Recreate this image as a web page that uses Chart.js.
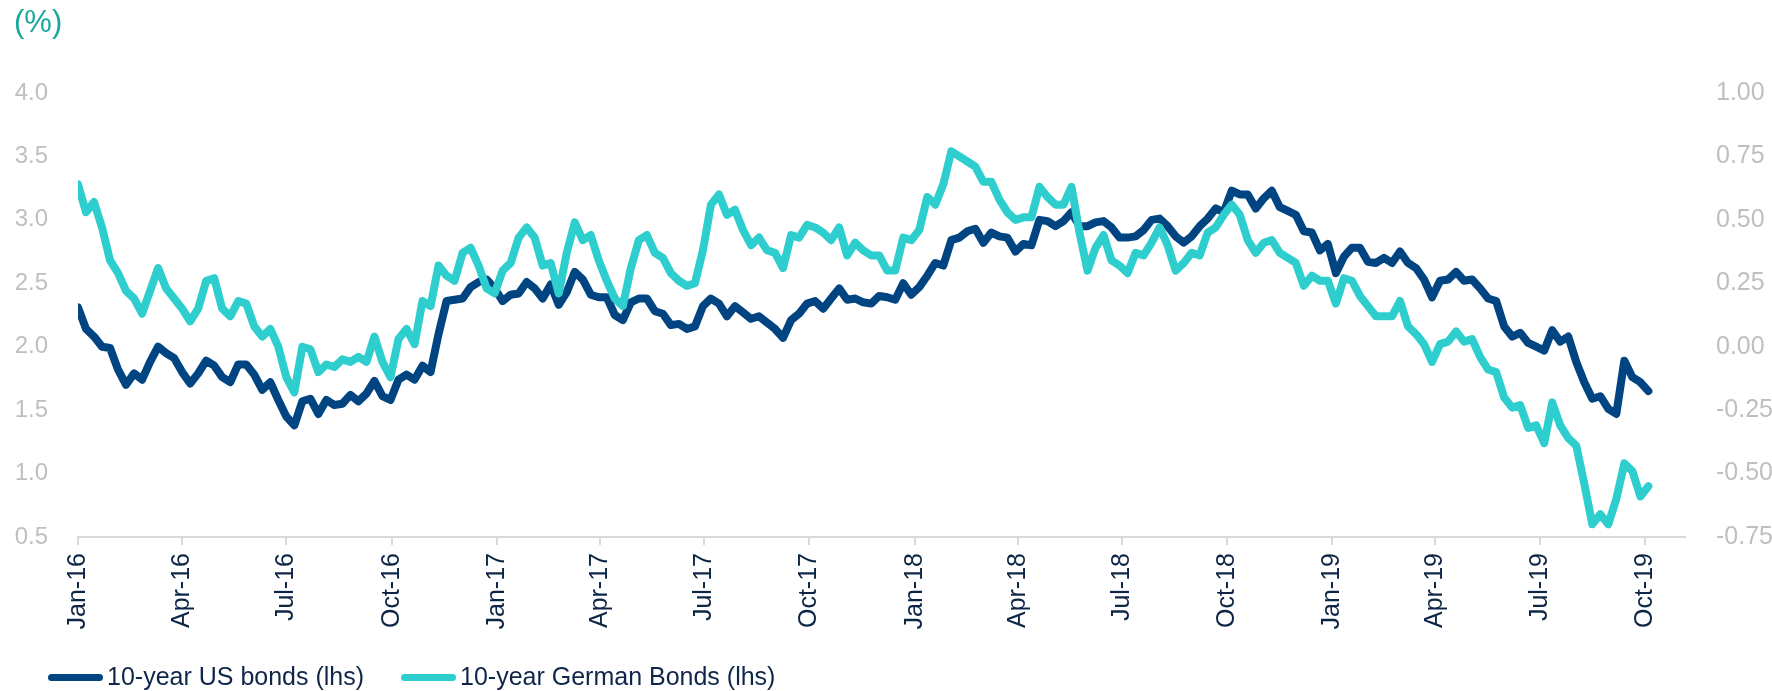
<!DOCTYPE html>
<html>
<head>
<meta charset="utf-8">
<script src="https://cdn.jsdelivr.net/npm/chart.js@4.4.0/dist/chart.umd.min.js"></script>
<style>
    html, body { margin: 0; padding: 0; background: #fff; }
    #wrap { position: relative; width: 1772px; height: 691px; font-family: "Liberation Sans", Arial, sans-serif; }
    #unit { position: absolute; left: 14px; top: 4px; font-size: 31px; color: #19a89c; }
    #legend { position: absolute; left: 48px; top: 661px; font-size: 25px; line-height: 30px; color: #10254a; white-space: nowrap; }
    .item { display: inline-block; margin-right: 30px; }
    .swatch { display: inline-block; width: 55px; height: 7px; border-radius: 4px; vertical-align: middle; margin-right: 4px; position: relative; top: -1px; }
</style>
</head>
<body>
<div id="wrap">
    <canvas id="myChart"></canvas>
    <div id="unit">(%)</div>
    <div id="legend">
        <span class="item"><span class="swatch" style="background:#004481"></span>10-year US bonds (lhs)</span>
        <span class="item"><span class="swatch" style="background:#2ecece"></span>10-year German Bonds (lhs)</span>
    </div>
</div>
<script>
    // weekly observations, first one on 2016-01-01
    var firstDate = '2016-01-01';
    var stepDays = 7;

    // 10-year US treasury yield (left axis)
    var usBonds = [
        2.31, 2.14, 2.08, 2.00, 1.99, 1.82, 1.70, 1.79, 1.74, 1.88, 2.00, 1.95, 1.91, 1.80, 1.71, 1.79,
        1.89, 1.85, 1.76, 1.72, 1.86, 1.86, 1.78, 1.66, 1.72, 1.58, 1.45, 1.38, 1.57, 1.59, 1.47, 1.58,
        1.54, 1.55, 1.62, 1.57, 1.63, 1.73, 1.61, 1.58, 1.74, 1.78, 1.74, 1.85, 1.80, 2.10, 2.36, 2.37,
        2.38, 2.47, 2.51, 2.53, 2.46, 2.36, 2.41, 2.42, 2.51, 2.46, 2.38, 2.49, 2.33, 2.43, 2.59, 2.53,
        2.41, 2.39, 2.39, 2.25, 2.21, 2.35, 2.38, 2.38, 2.28, 2.26, 2.17, 2.18, 2.14, 2.16, 2.32, 2.38,
        2.34, 2.24, 2.32, 2.27, 2.22, 2.24, 2.19, 2.14, 2.07, 2.21, 2.26, 2.34, 2.36, 2.30, 2.38, 2.46,
        2.37, 2.38, 2.35, 2.34, 2.40, 2.39, 2.37, 2.50, 2.41, 2.47, 2.56, 2.66, 2.64, 2.84, 2.86, 2.91,
        2.93, 2.82, 2.90, 2.87, 2.86, 2.75, 2.81, 2.80, 3.00, 2.99, 2.95, 2.99, 3.06, 2.95, 2.95, 2.98,
        2.99, 2.94, 2.86, 2.86, 2.87, 2.92, 3.00, 3.01, 2.95, 2.87, 2.82, 2.87, 2.95, 3.01, 3.09, 3.06,
        3.23, 3.20, 3.20, 3.09, 3.17, 3.23, 3.10, 3.07, 3.04, 2.91, 2.90, 2.76, 2.81, 2.58, 2.71, 2.78,
        2.78, 2.67, 2.66, 2.70, 2.66, 2.75, 2.66, 2.62, 2.53, 2.39, 2.52, 2.53, 2.59, 2.52, 2.53, 2.46,
        2.38, 2.36, 2.16, 2.08, 2.11, 2.03, 2.00, 1.97, 2.13, 2.04, 2.08, 1.88, 1.72, 1.59, 1.61, 1.51,
        1.47, 1.89, 1.76, 1.72, 1.65
    ];

    // 10-year German bund yield (plotted on the right axis)
    var deBonds = [
        0.64, 0.53, 0.57, 0.47, 0.34, 0.29, 0.22, 0.19, 0.13, 0.22, 0.31, 0.23, 0.19, 0.15, 0.10, 0.15,
        0.26, 0.27, 0.15, 0.12, 0.18, 0.17, 0.08, 0.04, 0.07, 0.00, -0.12, -0.18, 0.00, -0.01, -0.10, -0.07,
        -0.08, -0.05, -0.06, -0.04, -0.06, 0.04, -0.06, -0.12, 0.03, 0.07, 0.01, 0.18, 0.16, 0.32, 0.28, 0.26,
        0.37, 0.39, 0.32, 0.23, 0.21, 0.30, 0.33, 0.43, 0.47, 0.43, 0.32, 0.33, 0.21, 0.37, 0.49, 0.42,
        0.44, 0.34, 0.26, 0.19, 0.16, 0.31, 0.42, 0.44, 0.37, 0.35, 0.29, 0.26, 0.24, 0.25, 0.38, 0.56,
        0.60, 0.52, 0.54, 0.46, 0.40, 0.43, 0.38, 0.37, 0.31, 0.44, 0.43, 0.48, 0.47, 0.45, 0.42, 0.47,
        0.36, 0.41, 0.38, 0.36, 0.36, 0.30, 0.30, 0.43, 0.42, 0.46, 0.59, 0.56, 0.64, 0.77, 0.75, 0.73,
        0.71, 0.65, 0.65, 0.58, 0.53, 0.50, 0.51, 0.51, 0.63, 0.59, 0.56, 0.56, 0.63, 0.45, 0.30, 0.39,
        0.44, 0.34, 0.32, 0.29, 0.37, 0.36, 0.41, 0.47, 0.40, 0.30, 0.33, 0.37, 0.36, 0.45, 0.47, 0.52,
        0.56, 0.52, 0.42, 0.37, 0.41, 0.42, 0.37, 0.35, 0.33, 0.24, 0.28, 0.26, 0.26, 0.17, 0.27, 0.26,
        0.20, 0.16, 0.12, 0.12, 0.12, 0.18, 0.08, 0.05, 0.01, -0.06, 0.01, 0.02, 0.06, 0.02, 0.03, -0.04,
        -0.09, -0.10, -0.20, -0.24, -0.23, -0.32, -0.31, -0.38, -0.22, -0.31, -0.36, -0.39, -0.54, -0.70, -0.66, -0.70,
        -0.60, -0.46, -0.49, -0.59, -0.55
    ];

    // x-axis ticks every quarter
    var tickDates = ['2016-01-01', '2016-04-01', '2016-07-01', '2016-10-01', '2017-01-01', '2017-04-01',
        '2017-07-01', '2017-10-01', '2018-01-01', '2018-04-01', '2018-07-01', '2018-10-01',
        '2019-01-01', '2019-04-01', '2019-07-01', '2019-10-01'];
    var tickLabels = ['Jan-16', 'Apr-16', 'Jul-16', 'Oct-16', 'Jan-17', 'Apr-17', 'Jul-17', 'Oct-17',
        'Jan-18', 'Apr-18', 'Jul-18', 'Oct-18', 'Jan-19', 'Apr-19', 'Jul-19', 'Oct-19'];
    var axisEndDate = '2019-11-05';

    //日期转成天数
    function dayOf(s) {
        return (Date.parse(s + 'T00:00:00Z') - Date.parse(firstDate + 'T00:00:00Z')) / 86400000;
    }
    var tickDays = tickDates.map(dayOf);

    var usPoints = usBonds.map(function (v, i) { return { x: i * stepDays, y: v }; });
    var dePoints = deBonds.map(function (v, i) { return { x: i * stepDays, y: v }; });

    var font = "'Liberation Sans', Arial, sans-serif";
    var ctx = document.getElementById("myChart").getContext('2d');
    var myChart = new Chart(ctx, {
        type: 'line',
        data: {
            datasets: [{
                label: '10-year US bonds (lhs)',
                data: usPoints,
                yAxisID: 'y',
                borderColor: '#004481',
                order: 1
            }, {
                label: '10-year German Bonds (lhs)',
                data: dePoints,
                yAxisID: 'y2',
                borderColor: '#2ecece',
                order: 0
            }]
        },
        options: {
            responsive: true,
            maintainAspectRatio: false,
            animation: false,
            layout: { padding: { top: 93, left: 0, right: 0, bottom: 0 } },
            elements: {
                line: { borderWidth: 8, tension: 0, borderJoinStyle: 'round', borderCapStyle: 'round' },
                point: { radius: 0 }
            },
            plugins: { legend: { display: false }, tooltip: { enabled: false } },
            scales: {
                x: {
                    type: 'linear',
                    min: 0,
                    max: dayOf(axisEndDate),
                    afterFit: function (s) { s.height = 154; },
                    afterBuildTicks: function (s) {
                        s.ticks = tickDays.map(function (d) { return { value: d }; });
                    },
                    grid: { drawOnChartArea: false, drawTicks: true, tickLength: 8, color: '#d9d9d9', lineWidth: 2 },
                    border: { display: true, color: '#d9d9d9', width: 2 },
                    ticks: {
                        autoSkip: false,
                        minRotation: 90,
                        maxRotation: 90,
                        padding: 8,
                        color: '#0e2646',
                        font: { family: font, size: 25 },
                        callback: function (v) {
                            var i = tickDays.indexOf(v);
                            return i >= 0 ? tickLabels[i] : '';
                        }
                    }
                },
                y: {
                    position: 'left',
                    min: 0.5,
                    max: 4.0,
                    afterFit: function (s) { s.width = 78; },
                    grid: { display: false },
                    border: { display: false },
                    ticks: {
                        stepSize: 0.5,
                        padding: 22,
                        color: '#bfbfbf',
                        font: { family: font, size: 24 },
                        callback: function (v) { return v.toFixed(1); }
                    }
                },
                y2: {
                    position: 'right',
                    min: -0.75,
                    max: 1.0,
                    afterFit: function (s) { s.width = 87; },
                    grid: { display: false },
                    border: { display: false },
                    ticks: {
                        stepSize: 0.25,
                        padding: 23,
                        color: '#bfbfbf',
                        font: { family: font, size: 25 },
                        callback: function (v) { return v.toFixed(2); }
                    }
                }
            }
        }
    });
</script>
</body>
</html>
